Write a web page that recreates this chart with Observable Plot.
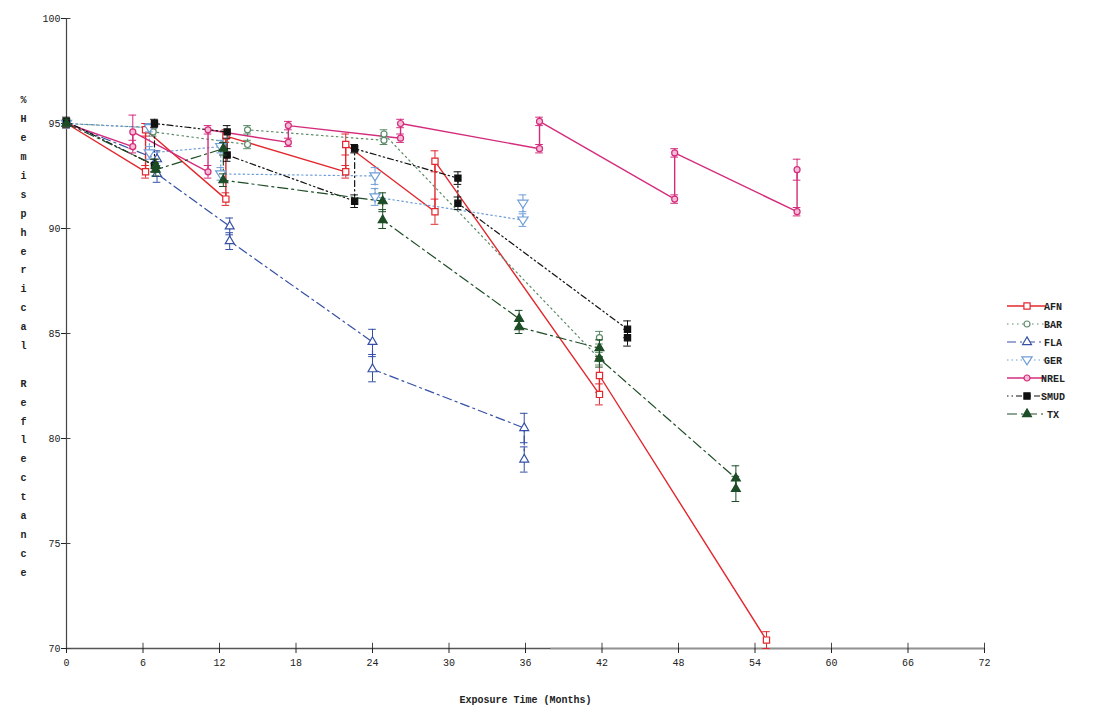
<!DOCTYPE html>
<html><head><meta charset="utf-8">
<script src="https://cdn.jsdelivr.net/npm/d3@7"></script>
<script src="https://cdn.jsdelivr.net/npm/@observablehq/plot@0.6"></script>
<style>body{margin:0;background:#fff}</style>
</head><body><div id="chart"></div>
<script>
// ---- data ----
const seriesNames = ["AFN", "BAR", "FLA", "GER", "NREL", "SMUD", "TX"];

const afnMonths = [0, 6.2, 6.2, 12.5, 12.5, 21.9, 21.9, 28.9, 28.9, 41.8, 41.8, 54.9];
const afnValues = [95.0, 92.7, 94.7, 91.4, 94.4, 92.7, 94.0, 90.8, 93.2, 82.1, 83.0, 70.4];
const afnErrors = [0.2, 0.3, 0.3, 0.3, 0.3, 0.3, 0.5, 0.6, 0.5, 0.5, 0.8, 0.4];

const barMonths = [0, 6.8, 6.8, 14.2, 14.2, 24.9, 24.9, 41.8, 41.8];
const barValues = [95.0, 94.8, 94.6, 94.0, 94.7, 94.2, 94.5, 83.8, 84.8];
const barErrors = [0.2, 0.2, 0.2, 0.2, 0.2, 0.2, 0.2, 0.3, 0.3];

const flaMonths = [0, 7.1, 7.1, 12.8, 12.8, 24.0, 24.0, 35.9, 35.9];
const flaValues = [95.0, 93.3, 92.6, 90.1, 89.4, 84.6, 83.3, 80.5, 79.0];
const flaErrors = [0.2, 0.4, 0.4, 0.4, 0.4, 0.6, 0.6, 0.7, 0.6];

const gerMonths = [0, 6.5, 6.5, 12.1, 12.1, 24.2, 24.2, 35.8, 35.8];
const gerValues = [95.0, 94.8, 93.6, 93.9, 92.6, 92.5, 91.5, 90.4, 91.2];
const gerErrors = [0.2, 0.2, 0.3, 0.3, 0.3, 0.4, 0.4, 0.3, 0.4];

const nrelMonths = [0, 5.2, 5.2, 11.1, 11.1, 17.4, 17.4, 26.2, 26.2, 37.1, 37.1, 47.7, 47.7, 57.3, 57.3];
const nrelValues = [95.0, 93.9, 94.6, 92.7, 94.7, 94.1, 94.9, 94.3, 95.0, 93.8, 95.1, 91.4, 93.6, 90.8, 92.8];
const nrelErrors = [0.2, 0.3, 0.8, 0.3, 0.2, 0.2, 0.2, 0.2, 0.2, 0.2, 0.2, 0.2, 0.2, 0.2, 0.5];

const smudMonths = [0, 6.9, 6.9, 12.6, 12.6, 22.6, 22.6, 30.7, 30.7, 44.0, 44.0];
const smudValues = [95.1, 93.0, 95.0, 94.6, 93.5, 91.3, 93.8, 92.4, 91.2, 85.2, 84.8];
const smudErrors = [0.2, 0.3, 0.2, 0.3, 0.3, 0.3, 0.2, 0.3, 0.3, 0.4, 0.4];

const txMonths = [0, 7.0, 7.0, 12.3, 12.3, 24.8, 24.8, 35.5, 35.5, 41.8, 41.8, 52.5, 52.5];
const txValues = [95.0, 93.0, 92.8, 93.8, 92.3, 91.3, 90.4, 85.7, 85.3, 84.3, 83.8, 78.1, 77.6];
const txErrors = [0.2, 0.3, 0.3, 0.3, 0.3, 0.4, 0.4, 0.4, 0.3, 0.4, 0.4, 0.6, 0.6];

const xTicks = [0, 6, 12, 18, 24, 30, 36, 42, 48, 54, 60, 66, 72];
const yTicks = [70, 75, 80, 85, 90, 95, 100];
const xLabel = "Exposure Time (Months)";
const yLabel = "% Hemispherical Reflectance";

// ---- styles ----
const triangleDown = {
  draw(ctx, size) {
    const r = Math.sqrt(size / 1.3);
    ctx.moveTo(-r, -r * 0.6);
    ctx.lineTo(r, -r * 0.6);
    ctx.lineTo(0, r * 0.95);
    ctx.closePath();
  }
};
const styleOf = {
  AFN:  {color: "#e3272d", dash: null,            width: 1.4, symbol: "square",   fill: "white",   r: 3.5},
  BAR:  {color: "#5c8a68", dash: "1.5,3.5",       width: 1.2, symbol: "circle",   fill: "white",   r: 3.0},
  FLA:  {color: "#3550a6", dash: "9,4,2,4",       width: 1.2, symbol: "triangle", fill: "white",   r: 3.3},
  GER:  {color: "#6f9fd6", dash: "1.5,3",         width: 1.2, symbol: triangleDown, fill: "white", r: 3.3},
  NREL: {color: "#d42c7c", dash: null,            width: 1.4, symbol: "circle",   fill: "#f5bcd6", r: 3.0},
  SMUD: {color: "#111111", dash: "1.5,3,1.5,3,6,3", width: 1.2, symbol: "square", fill: "#111111", r: 3.5},
  TX:   {color: "#1d4d26", dash: "10,4,2,4",      width: 1.2, symbol: "triangle", fill: "#1d4d26", r: 3.3}
};

const raw = {
  AFN: [afnMonths, afnValues, afnErrors],
  BAR: [barMonths, barValues, barErrors],
  FLA: [flaMonths, flaValues, flaErrors],
  GER: [gerMonths, gerValues, gerErrors],
  NREL: [nrelMonths, nrelValues, nrelErrors],
  SMUD: [smudMonths, smudValues, smudErrors],
  TX: [txMonths, txValues, txErrors]
};
const rowsOf = name => raw[name][0].map((t, i) => ({s: name, t, v: raw[name][1][i], e: raw[name][2][i]}));

const seriesMarks = [];
for (const name of seriesNames) {
  const st = styleOf[name];
  const rows = rowsOf(name);
  seriesMarks.push(
    Plot.line(rows, {x: "t", y: "v", stroke: st.color, strokeWidth: st.width, strokeDasharray: st.dash ?? undefined})
  );
}
for (const name of seriesNames) {
  const st = styleOf[name];
  const rows = rowsOf(name);
  seriesMarks.push(
    Plot.ruleX(rows, {x: "t", y1: d => d.v - d.e, y2: d => d.v + d.e, stroke: st.color, strokeWidth: 1}),
    Plot.ruleY(rows, {y: d => d.v + d.e, x1: d => d.t - 0.3, x2: d => d.t + 0.3, stroke: st.color, strokeWidth: 1}),
    Plot.ruleY(rows, {y: d => d.v - d.e, x1: d => d.t - 0.3, x2: d => d.t + 0.3, stroke: st.color, strokeWidth: 1}),
    Plot.dot(rows, {x: "t", y: "v", symbol: st.symbol, r: st.r, stroke: st.color, fill: st.fill, strokeWidth: 1.2})
  );
}

const font = "'Liberation Mono', 'DejaVu Sans Mono', monospace";
const stackedY = yLabel.replace("% ", "%").split("").map(c => c === " " ? "\u00a0" : c).join("\n");

const chart = Plot.plot({
  width: 1111,
  height: 719,
  marginLeft: 66,
  marginRight: 127,
  marginTop: 18,
  marginBottom: 71,
  style: {fontFamily: font, fontSize: "10px", color: "#222", background: "white"},
  x: {domain: [0, 72]},
  y: {domain: [70, 100]},
  marks: [
    Plot.ruleX([0], {y1: 70, y2: 100, stroke: "#444", strokeWidth: 1.2}),
    Plot.ruleY([70], {x1: 0, x2: 72, stroke: "#555", strokeWidth: 1.4}),
    Plot.ruleY([70], {x1: 38, x2: 72, stroke: "#bbb", strokeWidth: 3, strokeOpacity: 0.6}),
    Plot.ruleX(xTicks, {x: d => d, y1: 70, y2: 70.25, stroke: "#444"}),
    Plot.ruleY(yTicks, {y: d => d, x1: 0, x2: 0.35, stroke: "#444"}),
    Plot.axisX({ticks: xTicks, tickSize: 5, tickPadding: 5, label: null, fontSize: 10}),
    Plot.axisY({ticks: yTicks, tickSize: 5, tickPadding: 1, label: null, fontSize: 10}),
    Plot.text([xLabel], {frameAnchor: "bottom", dy: 54, fontSize: 10, fill: "#222", fontWeight: "bold"}),
    Plot.text([stackedY],
      {frameAnchor: "left", dx: -46, lineHeight: 1.89, fontSize: 10, fill: "#222", fontWeight: "bold"}),
    ...seriesMarks
  ]
});
document.getElementById("chart").appendChild(chart);

// ---- legend ----
const svg = d3.select(chart);
const lg = svg.append("g").attr("font-family", font).attr("font-size", 10).attr("fill", "#222").attr("font-weight", "bold");
const legendTop = 306, legendStep = 18;
seriesNames.forEach((name, i) => {
  const st = styleOf[name];
  const y = legendTop + i * legendStep;
  lg.append("line").attr("x1", 1007).attr("x2", 1046).attr("y1", y).attr("y2", y)
    .attr("stroke", st.color).attr("stroke-width", st.width)
    .attr("stroke-dasharray", st.dash ?? null);
  const sym = typeof st.symbol === "string"
    ? {square: d3.symbolSquare, circle: d3.symbolCircle, triangle: d3.symbolTriangle}[st.symbol]
    : st.symbol;
  lg.append("path").attr("transform", `translate(1027,${y})`)
    .attr("d", d3.symbol(sym, st.r * st.r * Math.PI)())
    .attr("stroke", st.color).attr("fill", st.fill).attr("stroke-width", 1.2);
  lg.append("text").attr("x", 1053).attr("y", y).attr("dy", "0.35em").text(name);
});
</script>
</body></html>
